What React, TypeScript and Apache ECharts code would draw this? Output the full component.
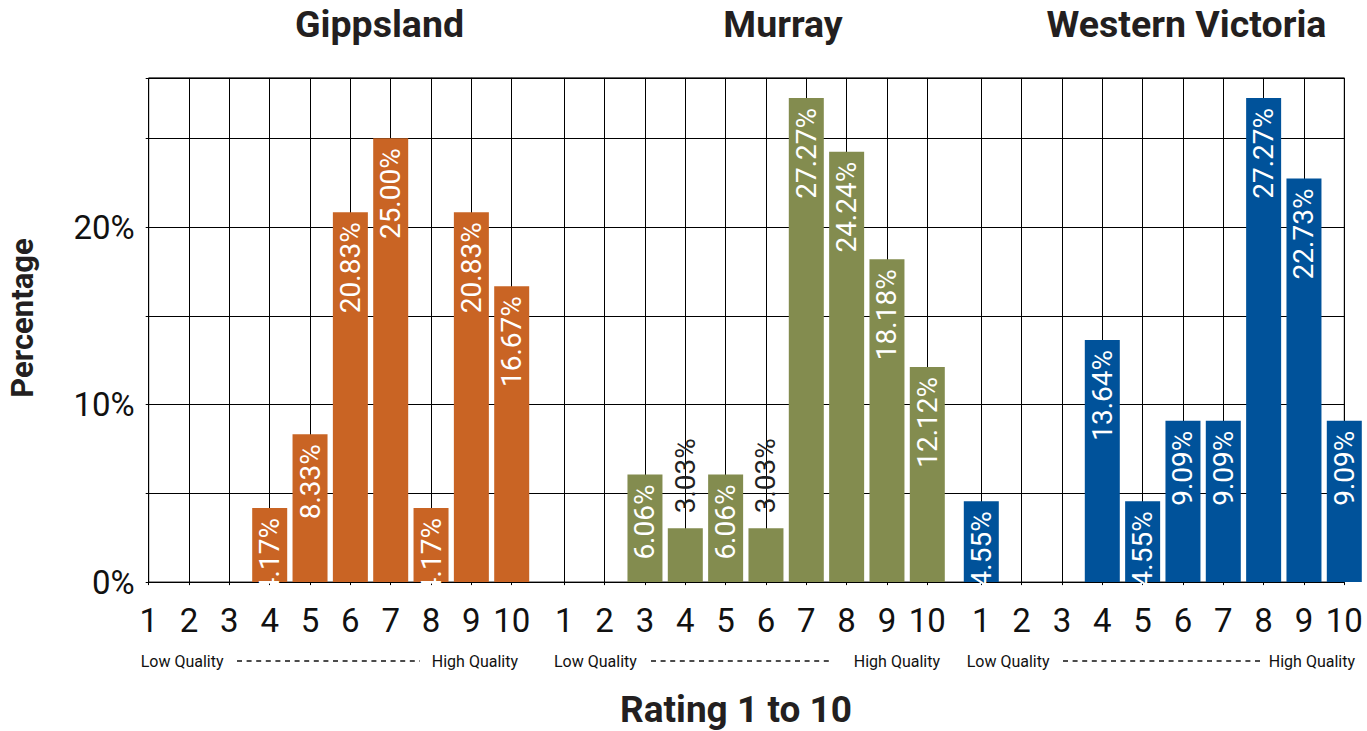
import React, { useEffect, useRef } from "react";
import * as echarts from "echarts";

// ---- data ----
const ratings = [1, 2, 3, 4, 5, 6, 7, 8, 9, 10];
const regions = ["Gippsland", "Murray", "Western Victoria"];
const gippsland = [0, 0, 0, 4.17, 8.33, 20.83, 25.0, 4.17, 20.83, 16.67];
const murray = [0, 0, 6.06, 3.03, 6.06, 3.03, 27.27, 24.24, 18.18, 12.12];
const westernVictoria = [4.55, 0, 0, 13.64, 4.55, 9.09, 9.09, 27.27, 22.73, 9.09];
const regionValues = [gippsland, murray, westernVictoria];
const yLabelTicks = [0, 10, 20];
const lowLabel = "Low Quality";
const highLabel = "High Quality";
const xTitle = "Rating 1 to 10";
const yTitle = "Percentage";

// ---- styles / layout ----
const colors = ["#C96424", "#838C4F", "#00529A"];
const FONT = "Roboto";
const INK = "#231F20";
const PLOT_LEFT = 148.7;
const PLOT_RIGHT = 1344.3;
const PLOT_TOP = 77.9;
const PLOT_BOTTOM = 582.1;
const W = 1367;
const H = 731;
const panelLefts = [148.7, 564.3, 981.3];
const panelWidth = 363;
const titleX = [379.5, 783, 1186.5];
const lowX = [140.7, 554, 966.7];
const dashX = [
  [237, 420],
  [651, 833],
  [1063, 1263],
];
const highRight = [518, 940, 1355];
const Y_MAX = 28.4;

export default function App() {
  const ref = useRef<HTMLDivElement>(null);

  useEffect(() => {
    if (!ref.current) return;
    const chart = echarts.init(ref.current, null, { renderer: "svg" });

    const grids: any[] = [
      {
        left: PLOT_LEFT,
        top: PLOT_TOP,
        width: PLOT_RIGHT - PLOT_LEFT,
        height: PLOT_BOTTOM - PLOT_TOP,
        show: true,
        borderColor: "#000",
        borderWidth: 1,
        backgroundColor: "transparent",
      },
    ];
    const xAxes: any[] = [
      { gridIndex: 0, type: "value", min: 0, max: 1, show: false },
    ];
    const yAxes: any[] = [
      {
        gridIndex: 0,
        type: "value",
        min: 0,
        max: Y_MAX,
        interval: 5,
        axisLine: { show: false },
        axisTick: { show: true, length: 3, lineStyle: { color: "#000" } },
        splitLine: { show: true, lineStyle: { color: "#000", width: 1 } },
        axisLabel: {
          fontFamily: FONT,
          fontSize: 33,
          color: "#111",
          margin: 14,
          formatter: (v: number) => (yLabelTicks.includes(v) ? v + "%" : ""),
        },
      },
    ];
    const series: any[] = [];

    regions.forEach((name, i) => {
      const gi = i + 1;
      grids.push({
        left: panelLefts[i],
        top: PLOT_TOP,
        width: panelWidth,
        height: PLOT_BOTTOM - PLOT_TOP,
      });
      xAxes.push({
        gridIndex: gi,
        type: "value",
        min: ratings[0],
        max: ratings[ratings.length - 1],
        interval: 1,
        axisLine: { show: false },
        axisTick: { show: true, length: 3, lineStyle: { color: "#000" } },
        splitLine: { show: true, lineStyle: { color: "#000", width: 1 } },
        axisLabel: {
          fontFamily: FONT,
          fontSize: 33,
          color: "#111",
          margin: 22,
          showMinLabel: true,
          showMaxLabel: true,
        },
      });
      yAxes.push({
        gridIndex: gi,
        type: "value",
        min: 0,
        max: Y_MAX,
        show: false,
        splitLine: { show: false },
      });
      const vals = regionValues[i];
      series.push({
        type: "bar",
        name,
        xAxisIndex: gi,
        yAxisIndex: gi,
        barWidth: 35,
        clip: false,
        itemStyle: { color: colors[i] },
        label: {
          show: true,
          position: "insideTop",
          rotate: 90,
          align: "right",
          verticalAlign: "middle",
          distance: 10,
          color: "#fff",
          fontFamily: FONT,
          fontSize: 28,
          formatter: (p: any) =>
            p.value[1] > 0 ? p.value[1].toFixed(2) + "%" : "",
        },
        data: ratings.map((r, k) => {
          const v = vals[k];
          const item: any = { value: [r, v] };
          if (v > 0 && v < 4) {
            item.label = {
              position: "top",
              rotate: 90,
              align: "left",
              verticalAlign: "middle",
              distance: 15,
              color: "#222",
            };
          }
          return item;
        }),
      });
    });

    const graphic: any[] = [];
    regions.forEach((name, i) => {
      graphic.push({
        type: "text",
        x: titleX[i],
        y: 24,
        style: {
          text: name,
          fontFamily: FONT,
          fontSize: 37.5,
          fontWeight: "bold",
          fill: INK,
          align: "center",
          verticalAlign: "middle",
        },
      });
      graphic.push({
        type: "text",
        x: lowX[i],
        y: 661,
        style: {
          text: lowLabel,
          fontFamily: FONT,
          fontSize: 16,
          fill: "#111",
          align: "left",
          verticalAlign: "middle",
        },
      });
      graphic.push({
        type: "text",
        x: highRight[i],
        y: 661,
        style: {
          text: highLabel,
          fontFamily: FONT,
          fontSize: 16,
          fill: "#111",
          align: "right",
          verticalAlign: "middle",
        },
      });
      graphic.push({
        type: "line",
        shape: { x1: dashX[i][0], y1: 661, x2: dashX[i][1], y2: 661 },
        style: { stroke: "#111", lineWidth: 1.5, lineDash: [5, 4.6] },
      });
    });
    graphic.push({
      type: "text",
      x: 736,
      y: 709,
      style: {
        text: xTitle,
        fontFamily: FONT,
        fontSize: 37,
        fontWeight: "bold",
        fill: INK,
        align: "center",
        verticalAlign: "middle",
      },
    });
    graphic.push({
      type: "text",
      x: 22,
      y: 318,
      rotation: Math.PI / 2,
      style: {
        text: yTitle,
        fontFamily: FONT,
        fontSize: 31,
        fontWeight: "bold",
        fill: INK,
        align: "center",
        verticalAlign: "middle",
      },
    });

    chart.setOption({
      animation: false,
      backgroundColor: "#fff",
      textStyle: { fontFamily: FONT },
      grid: grids,
      xAxis: xAxes,
      yAxis: yAxes,
      series,
      graphic,
    });

    return () => chart.dispose();
  }, []);

  return (
    <div
      ref={ref}
      style={{ position: "fixed", left: 0, top: 0, width: W, height: H }}
    />
  );
}
